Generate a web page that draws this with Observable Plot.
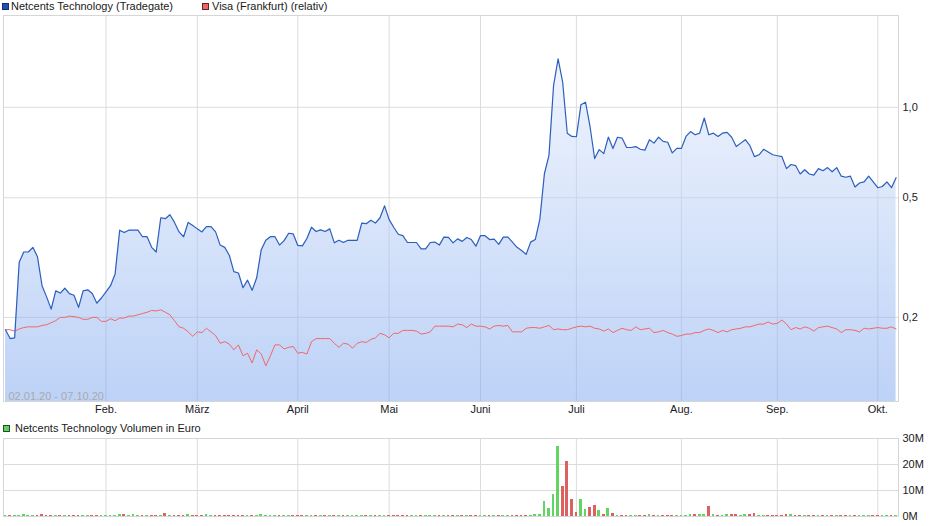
<!DOCTYPE html>
<html>
<head>
<meta charset="utf-8">
<script src="https://cdn.jsdelivr.net/npm/d3@7"></script>
<script src="https://cdn.jsdelivr.net/npm/@observablehq/plot@0.6"></script>
<style>
  body { margin: 0; background: #fff; }
  #root { position: relative; width: 940px; height: 526px; font-family: "Liberation Sans", Arial, sans-serif; font-size: 11px; color: #222; overflow: hidden; }
  .leg { position: absolute; line-height: 13px; white-space: nowrap; color: #1a1a1a; }
  .sq { position: absolute; width: 7px; height: 7px; box-sizing: border-box; border: 1px solid #333; }
  .chart { position: absolute; left: 0; }
</style>
</head>
<body>
<div id="root">
  <div class="sq" style="left:2px;top:3px;background:#1f50b8;border-color:#17306a"></div>
  <div class="leg" style="left:11px;top:0px">Netcents Technology (Tradegate)</div>
  <div class="sq" style="left:202px;top:3px;background:#f26464;border-color:#5a2a2a"></div>
  <div class="leg" style="left:212px;top:0px">Visa (Frankfurt) (relativ)</div>
  <div class="sq" style="left:3px;top:425px;background:#5fd35f;border-color:#2a4a2a"></div>
  <div class="leg" style="left:15px;top:422px">Netcents Technology Volumen in Euro</div>
  <div id="main" class="chart" style="top:0px"></div>
  <div id="vol" class="chart" style="top:420px"></div>
</div>
<script>
// Trading-day series, 02.01.20 - 07.10.20 (index = trading day)
const netcents = [
  0.182,0.170,0.171,0.305,0.330,0.330,0.342,0.318,0.255,0.234,
  0.213,0.245,0.241,0.250,0.240,0.237,0.216,0.245,0.247,0.240,
  0.223,0.232,0.243,0.255,0.279,0.390,0.383,0.390,0.390,0.390,
  0.371,0.371,0.342,0.330,0.429,0.426,0.439,0.414,0.385,0.371,
  0.414,0.404,0.394,0.385,0.401,0.401,0.385,0.348,0.342,0.322,
  0.284,0.281,0.251,0.266,0.246,0.271,0.336,0.361,0.371,0.371,
  0.348,0.360,0.381,0.379,0.347,0.346,0.366,0.399,0.386,0.391,
  0.386,0.394,0.354,0.361,0.355,0.361,0.361,0.361,0.412,0.410,
  0.421,0.412,0.429,0.470,0.423,0.399,0.378,0.374,0.355,0.355,
  0.355,0.338,0.338,0.355,0.356,0.348,0.370,0.369,0.354,0.365,
  0.358,0.369,0.363,0.345,0.374,0.374,0.363,0.364,0.350,0.370,
  0.370,0.356,0.342,0.334,0.324,0.356,0.363,0.424,0.601,0.692,
  1.18,1.45,1.21,0.82,0.80,0.798,1.02,1.04,0.86,0.675,
  0.723,0.701,0.796,0.729,0.795,0.79,0.735,0.735,0.74,0.725,
  0.72,0.78,0.76,0.795,0.77,0.765,0.705,0.73,0.73,0.80,
  0.83,0.81,0.82,0.921,0.81,0.82,0.80,0.82,0.825,0.795,
  0.74,0.76,0.78,0.745,0.685,0.695,0.725,0.71,0.695,0.69,
  0.685,0.625,0.645,0.64,0.60,0.62,0.60,0.595,0.625,0.615,
  0.63,0.61,0.63,0.59,0.585,0.59,0.543,0.56,0.565,0.59,
  0.565,0.54,0.545,0.565,0.54,0.583
];
const visaRel = [
  0.182,0.182,0.180,0.183,0.185,0.186,0.186,0.186,0.188,0.189,
  0.192,0.195,0.200,0.200,0.202,0.201,0.200,0.197,0.197,0.200,
  0.200,0.194,0.194,0.198,0.195,0.199,0.199,0.202,0.202,0.204,
  0.206,0.208,0.211,0.210,0.212,0.208,0.204,0.195,0.186,0.184,
  0.179,0.173,0.179,0.178,0.184,0.179,0.174,0.164,0.166,0.163,
  0.156,0.162,0.149,0.152,0.141,0.156,0.151,0.138,0.149,0.162,
  0.162,0.157,0.159,0.160,0.152,0.153,0.151,0.166,0.170,0.170,
  0.170,0.170,0.164,0.159,0.164,0.163,0.158,0.164,0.166,0.165,
  0.169,0.171,0.177,0.175,0.171,0.177,0.177,0.181,0.181,0.181,
  0.180,0.176,0.177,0.179,0.187,0.187,0.187,0.187,0.186,0.190,
  0.189,0.185,0.190,0.187,0.187,0.186,0.183,0.187,0.188,0.187,
  0.188,0.179,0.179,0.179,0.184,0.185,0.185,0.184,0.186,0.188,
  0.182,0.183,0.182,0.182,0.184,0.186,0.187,0.186,0.187,0.184,
  0.183,0.180,0.183,0.178,0.181,0.184,0.182,0.181,0.186,0.182,
  0.183,0.184,0.178,0.179,0.181,0.178,0.176,0.173,0.174,0.176,
  0.176,0.178,0.178,0.181,0.183,0.181,0.178,0.181,0.179,0.182,
  0.183,0.184,0.186,0.186,0.188,0.190,0.190,0.193,0.190,0.191,
  0.196,0.190,0.182,0.185,0.183,0.186,0.184,0.180,0.185,0.186,
  0.187,0.185,0.183,0.178,0.182,0.182,0.181,0.179,0.184,0.183,
  0.184,0.185,0.184,0.184,0.186,0.183
];
// Volume in million euro
const volumeM = [
  0.4,0.4,0.4,0.4,0.6,0.4,0.4,0.4,0.6,0.4,
  0.4,0.4,0.4,0.4,0.4,0.4,0.4,0.4,0.4,0.4,
  0.4,0.4,0.4,0.4,0.4,0.7,0.6,0.4,0.6,0.4,
  0.4,0.4,0.4,0.4,0.4,1.3,0.4,0.4,0.4,0.4,
  0.6,0.4,0.4,0.4,0.6,0.4,0.4,0.4,0.4,0.4,
  0.4,0.4,0.4,0.4,0.4,0.4,0.6,0.4,0.4,0.4,
  0.4,0.4,0.4,0.4,0.4,0.4,0.4,0.4,0.4,0.4,
  0.4,0.4,0.4,0.4,0.4,0.4,0.4,0.4,0.4,0.4,
  0.4,0.4,0.4,0.4,0.4,0.4,0.4,0.4,0.4,0.4,
  0.4,0.4,0.4,0.4,0.4,0.4,0.4,0.4,0.4,0.4,
  0.4,0.4,0.4,0.4,0.4,0.4,0.4,0.4,0.4,0.4,
  0.4,0.4,0.4,0.4,0.4,0.4,0.6,0.6,5.8,3.0,
  8.5,26.9,11.5,21.2,6.5,1.7,6.5,2.7,3.6,4.4,
  2.3,0.9,3.1,1.3,0.5,0.5,0.5,0.5,0.5,0.5,
  0.5,0.8,0.5,0.5,0.45,0.45,0.5,0.5,0.4,0.5,
  0.9,0.6,0.9,0.6,4.0,0.6,0.5,0.4,0.8,0.6,
  0.6,0.4,0.6,0.6,1.2,0.5,0.5,0.4,0.5,0.4,
  0.4,0.6,0.6,0.4,0.4,0.4,0.4,0.4,0.4,0.4,
  0.4,0.4,0.5,0.4,0.5,0.4,0.4,0.4,0.4,0.4,
  0.5,0.5,0.4,0.4,0.4,0.4
];
const monthStartIdx = [22, 42, 64, 84, 104, 125, 148, 169, 191];
const monthLabels = ["Feb.", "März", "April", "Mai", "Juni", "Juli", "Aug.", "Sep.", "Okt."];
const priceTicks = [0.2, 0.5, 1.0];
const volumeTicks = [0, 10, 20, 30];
const rangeLabel = "02.01.20 - 07.10.20";

const rows = netcents.map((v, i) => ({
  i, nc: v, visa: visaRel[i], vol: volumeM[i],
  up: i === 0 ? true : v >= netcents[i - 1]
}));
const labelOf = new Map(monthStartIdx.map((d, k) => [d, monthLabels[k]]));
const xDomain = [-0.44, 195.53];
const yMin = 0.105, yMax = 2.02;
const font = {fontFamily: '"Liberation Sans", Arial, sans-serif', fontSize: "11px", color: "#1a1a1a", background: "transparent", overflow: "visible"};

const main = Plot.plot({
  width: 940, height: 420,
  marginTop: 15, marginBottom: 19, marginLeft: 3, marginRight: 42,
  style: font,
  x: {type: "linear", domain: xDomain, ticks: monthStartIdx, tickFormat: d => labelOf.get(d), tickSize: 0, tickPadding: 4, label: null},
  y: {type: "log", domain: [yMin, yMax], ticks: priceTicks, tickFormat: d => d.toFixed(1).replace(".", ","), tickSize: 0, tickPadding: 4, label: null, axis: "right"},
  marks: [
    Plot.ruleX(monthStartIdx, {stroke: "#dcdcdc"}),
    Plot.ruleY(priceTicks, {stroke: "#dcdcdc"}),
    Plot.areaY(rows, {x: "i", y1: yMin, y2: "nc", fill: "url(#ncGrad)"}),
    Plot.frame({stroke: "#d6d6d6"}),
    Plot.line(rows, {x: "i", y: "visa", stroke: "#f26767", strokeWidth: 1}),
    Plot.line(rows, {x: "i", y: "nc", stroke: "#2c5fbd", strokeWidth: 1.2}),
    Plot.text([rangeLabel], {frameAnchor: "bottom-left", dx: 5, dy: -2, fill: "#aaaaaa", fontSize: 11, textAnchor: "start"})
  ]
});
// gradient for the area fill (semi-transparent so the grid shows through)
const ns = "http://www.w3.org/2000/svg";
const defs = document.createElementNS(ns, "defs");
const grad = document.createElementNS(ns, "linearGradient");
grad.setAttribute("id", "ncGrad");
grad.setAttribute("gradientUnits", "userSpaceOnUse");
grad.setAttribute("x1", "0"); grad.setAttribute("x2", "0");
grad.setAttribute("y1", "15"); grad.setAttribute("y2", "401");
[["0", "rgb(239,243,253)"], ["1", "rgb(123,165,239)"]].forEach(([o, c]) => {
  const s = document.createElementNS(ns, "stop");
  s.setAttribute("offset", o); s.setAttribute("stop-color", c); s.setAttribute("stop-opacity", "0.5");
  grad.appendChild(s);
});
defs.appendChild(grad);
main.insertBefore(defs, main.firstChild);
document.getElementById("main").appendChild(main);

const vol = Plot.plot({
  width: 940, height: 106,
  marginTop: 18, marginBottom: 10, marginLeft: 3, marginRight: 42,
  style: font,
  x: {type: "linear", domain: xDomain, axis: null},
  y: {domain: [0, 30], ticks: volumeTicks, tickFormat: d => d + "M", tickSize: 0, tickPadding: 4, label: null, axis: "right"},
  marks: [
    Plot.ruleX(monthStartIdx, {stroke: "#dcdcdc"}),
    Plot.ruleY([10, 20, 30], {stroke: "#dcdcdc"}),
    Plot.frame({stroke: "#d6d6d6"}),
    Plot.rect(rows, {x1: d => d.i - 0.3, x2: d => d.i + 0.3, y1: 0, y2: "vol", fill: d => d.up ? "#62d462" : "#dc6262", shapeRendering: "crispEdges"})
  ]
});
document.getElementById("vol").appendChild(vol);
</script>
</body>
</html>
